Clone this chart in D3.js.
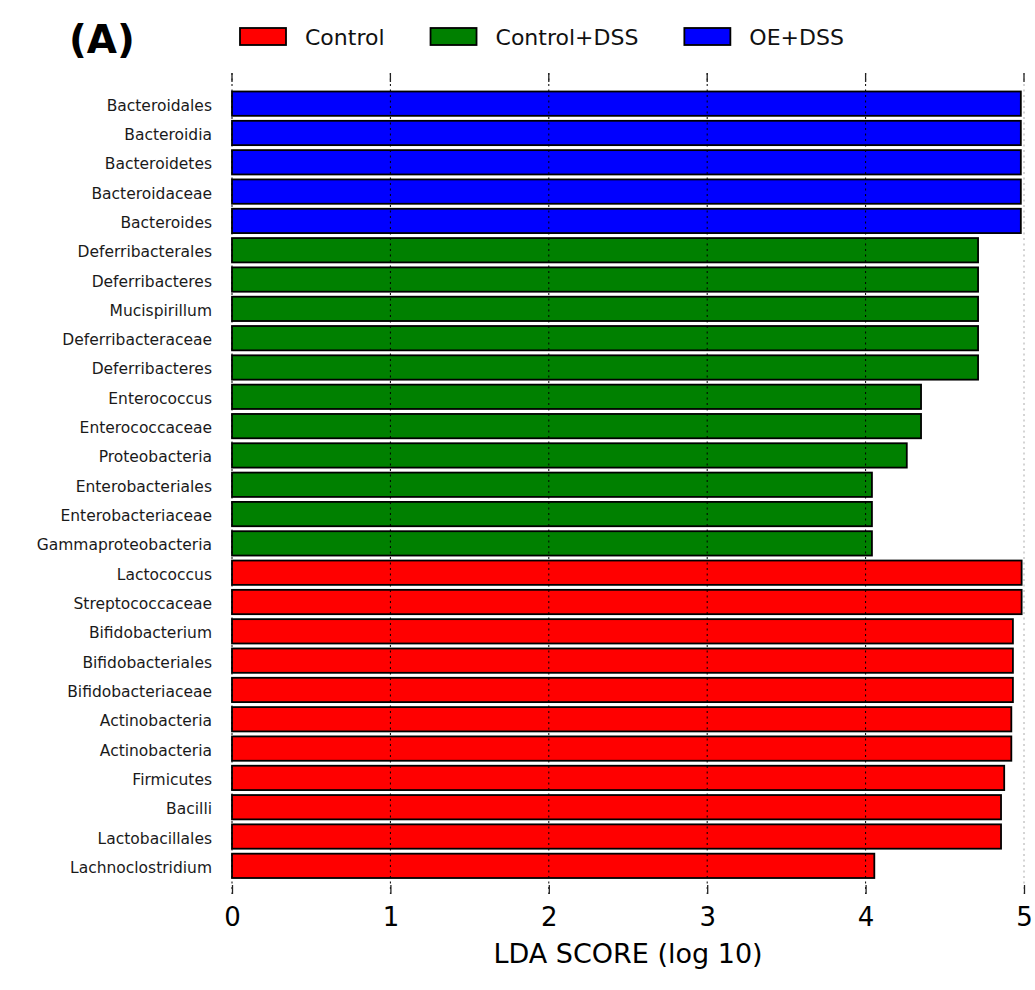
<!DOCTYPE html>
<html>
<head>
<meta charset="utf-8">
<script src="https://cdn.jsdelivr.net/npm/d3@7"></script>
<style>
  html, body { margin: 0; padding: 0; background: #fff; }
  svg { display: block; font-family: "DejaVu Sans", sans-serif; }
</style>
</head>
<body>
<svg id="chart" width="1035" height="990"></svg>
<script>
// LEfSe LDA scores, listed top to bottom
const taxa = [
  "Bacteroidales", "Bacteroidia", "Bacteroidetes", "Bacteroidaceae", "Bacteroides",
  "Deferribacterales", "Deferribacteres", "Mucispirillum", "Deferribacteraceae", "Deferribacteres",
  "Enterococcus", "Enterococcaceae", "Proteobacteria", "Enterobacteriales", "Enterobacteriaceae",
  "Gammaproteobacteria",
  "Lactococcus", "Streptococcaceae", "Bifidobacterium", "Bifidobacteriales", "Bifidobacteriaceae",
  "Actinobacteria", "Actinobacteria", "Firmicutes", "Bacilli", "Lactobacillales", "Lachnoclostridium"
];
const ldaScores = [
  4.98, 4.98, 4.98, 4.98, 4.98,
  4.71, 4.71, 4.71, 4.71, 4.71,
  4.35, 4.35, 4.26, 4.04, 4.04,
  4.04,
  4.985, 4.985, 4.93, 4.93, 4.93,
  4.92, 4.92, 4.875, 4.855, 4.855, 4.055
];
const groups = [
  "OE+DSS", "OE+DSS", "OE+DSS", "OE+DSS", "OE+DSS",
  "Control+DSS", "Control+DSS", "Control+DSS", "Control+DSS", "Control+DSS",
  "Control+DSS", "Control+DSS", "Control+DSS", "Control+DSS", "Control+DSS",
  "Control+DSS",
  "Control", "Control", "Control", "Control", "Control",
  "Control", "Control", "Control", "Control", "Control", "Control"
];
const classNames = ["Control", "Control+DSS", "OE+DSS"];
const xTicks = [0, 1, 2, 3, 4, 5];
const xTitle = "LDA SCORE (log 10)";
const panelTag = "(A)";

const svg = d3.select("#chart");

const color = d3.scaleOrdinal()
  .domain(classNames)
  .range(["#ff0000", "#008000", "#0000ff"]);

// plotting area
const axTop = 73, axBottom = 894;
const x = d3.scaleLinear().domain([0, 5]).range([232, 1024]);
const y = d3.scaleBand()
  .domain(d3.range(taxa.length))
  .range([89, 880.5])
  .paddingInner(0.17)
  .paddingOuter(0.085);

const rows = taxa.map((name, i) => ({ i, name, value: ldaScores[i], group: groups[i] }));

// bars
svg.append("g")
  .selectAll("rect")
  .data(rows)
  .join("rect")
  .attr("x", x(0))
  .attr("y", d => y(d.i))
  .attr("width", d => x(d.value) - x(0))
  .attr("height", y.bandwidth())
  .attr("fill", d => color(d.group))
  .attr("stroke", "#000")
  .attr("stroke-width", 1.8);

// dotted grid, drawn over the bars
svg.append("g")
  .selectAll("line")
  .data(xTicks)
  .join("line")
  .attr("x1", d => x(d)).attr("x2", d => x(d))
  .attr("y1", axTop).attr("y2", axBottom)
  .attr("stroke", d => d === 5 ? "#aaa" : "#000")
  .attr("stroke-width", 1)
  .attr("stroke-dasharray", "2,3.5");

// inward tick marks on top and bottom
const tickLen = 9;
svg.append("g")
  .selectAll("line")
  .data(xTicks)
  .join("line")
  .attr("x1", d => x(d)).attr("x2", d => x(d))
  .attr("y1", axTop).attr("y2", axTop + tickLen)
  .attr("stroke", "#222").attr("stroke-width", 1.3);

const xAxis = d3.axisBottom(x)
  .tickValues(xTicks)
  .tickFormat(d3.format("d"))
  .tickSize(-tickLen)
  .tickPadding(14);

const axisG = svg.append("g")
  .attr("transform", `translate(0,${axBottom})`)
  .call(xAxis);
axisG.select(".domain").remove();
axisG.selectAll(".tick line").attr("stroke", "#222").attr("stroke-width", 1.3);
axisG.selectAll(".tick text")
  .attr("font-family", "DejaVu Sans, sans-serif")
  .attr("font-size", 26)
  .attr("fill", "#000");

// axis title
svg.append("text")
  .attr("x", (x(0) + x(5)) / 2)
  .attr("y", 963)
  .attr("text-anchor", "middle")
  .attr("font-size", 27)
  .attr("fill", "#000")
  .text(xTitle);

// taxon labels
svg.append("g")
  .selectAll("text")
  .data(rows)
  .join("text")
  .attr("x", 212)
  .attr("y", d => y(d.i) + y.bandwidth() / 2)
  .attr("dy", "0.45em")
  .attr("text-anchor", "end")
  .attr("font-size", 15.5)
  .attr("fill", "#1a1a1a")
  .text(d => d.name);

// panel tag
svg.append("text")
  .attr("x", 69)
  .attr("y", 53)
  .attr("font-size", 39)
  .attr("font-weight", "bold")
  .attr("fill", "#000")
  .text(panelTag);

// legend, laid out left to right
const legend = svg.append("g");
let lx = 240;
classNames.forEach(c => {
  legend.append("rect")
    .attr("x", lx).attr("y", 28)
    .attr("width", 46).attr("height", 17)
    .attr("fill", color(c))
    .attr("stroke", "#000").attr("stroke-width", 1.8);
  const t = legend.append("text")
    .attr("x", lx + 65).attr("y", 44.5)
    .attr("font-size", 22)
    .attr("fill", "#111")
    .text(c);
  lx = lx + 65 + t.node().getComputedTextLength() + 46;
});
</script>
</body>
</html>
